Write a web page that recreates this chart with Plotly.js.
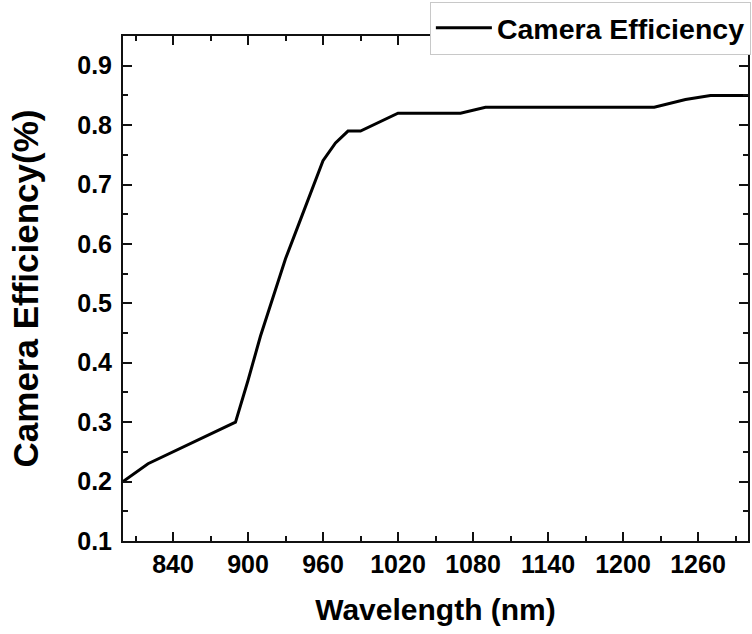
<!DOCTYPE html>
<html>
<head>
<meta charset="utf-8">
<script src="https://cdn.plot.ly/plotly-3.0.1.min.js"></script>
<style>
  html, body { margin: 0; padding: 0; background: #ffffff; }
  #chart { width: 752px; height: 634px; }
</style>
</head>
<body>
<div id="chart"></div>
<script>
// Camera quantum efficiency versus wavelength
const wavelength = [800, 820, 890, 900, 910, 920, 930, 940, 950, 960, 970, 980, 990, 1020, 1070, 1090, 1225, 1250, 1270, 1300];
const efficiency = [0.20, 0.23, 0.30, 0.37, 0.445, 0.51, 0.575, 0.63, 0.685, 0.74, 0.77, 0.79, 0.79, 0.82, 0.82, 0.83, 0.83, 0.843, 0.85, 0.85];
const seriesName = 'Camera Efficiency';
const xTitle = 'Wavelength (nm)';
const yTitle = 'Camera Efficiency(%)';

const FONT = 'Liberation Sans, Arial, Helvetica, sans-serif';
const INK = '#111111';

const trace = {
  x: wavelength,
  y: efficiency,
  type: 'scatter',
  mode: 'lines',
  name: seriesName,
  line: { color: '#000000', width: 3 },
  showlegend: true
};

const axisCommon = {
  showline: true,
  linecolor: INK,
  linewidth: 2,
  mirror: 'ticks',
  ticks: 'inside',
  ticklen: 9,
  tickwidth: 2,
  tickcolor: INK,
  showgrid: false,
  zeroline: false,
  automargin: true,
  tickfont: { family: FONT, size: 25, color: '#000', weight: 'bold' }
};

const layout = {
  width: 752,
  height: 634,
  paper_bgcolor: '#ffffff',
  plot_bgcolor: '#ffffff',
  margin: { l: 122.5, r: 2.5, t: 34.7, b: 92.8 },
  showlegend: true,
  legend: {
    x: 1.003, xanchor: 'right',
    y: 1.066, yanchor: 'top',
    bgcolor: '#ffffff',
    bordercolor: '#c8c8c8',
    borderwidth: 1,
    itemwidth: 56,
    font: { family: FONT, size: 28.5, color: '#000', weight: 'bold' }
  },
  xaxis: Object.assign({}, axisCommon, {
    range: [800, 1300],
    tick0: 840,
    dtick: 60,
    minor: { ticks: 'inside', ticklen: 5, tickwidth: 2, tickcolor: INK, dtick: 30, tick0: 810, showgrid: false },
    title: { text: xTitle, standoff: 22, font: { family: FONT, size: 30, color: '#000', weight: 'bold' } }
  }),
  yaxis: Object.assign({}, axisCommon, {
    range: [0.0999, 0.95],
    tick0: 0.1,
    dtick: 0.1,
    tickformat: '.1f',
    ticklabelstandoff: 4,
    minor: { ticks: 'inside', ticklen: 5, tickwidth: 2, tickcolor: INK, dtick: 0.05, tick0: 0.05, showgrid: false },
    title: { text: yTitle, standoff: 28, font: { family: FONT, size: 35, color: '#000', weight: 'bold' } }
  })
};

Plotly.newPlot('chart', [trace], layout, { displayModeBar: false, staticPlot: true });
</script>
</body>
</html>
